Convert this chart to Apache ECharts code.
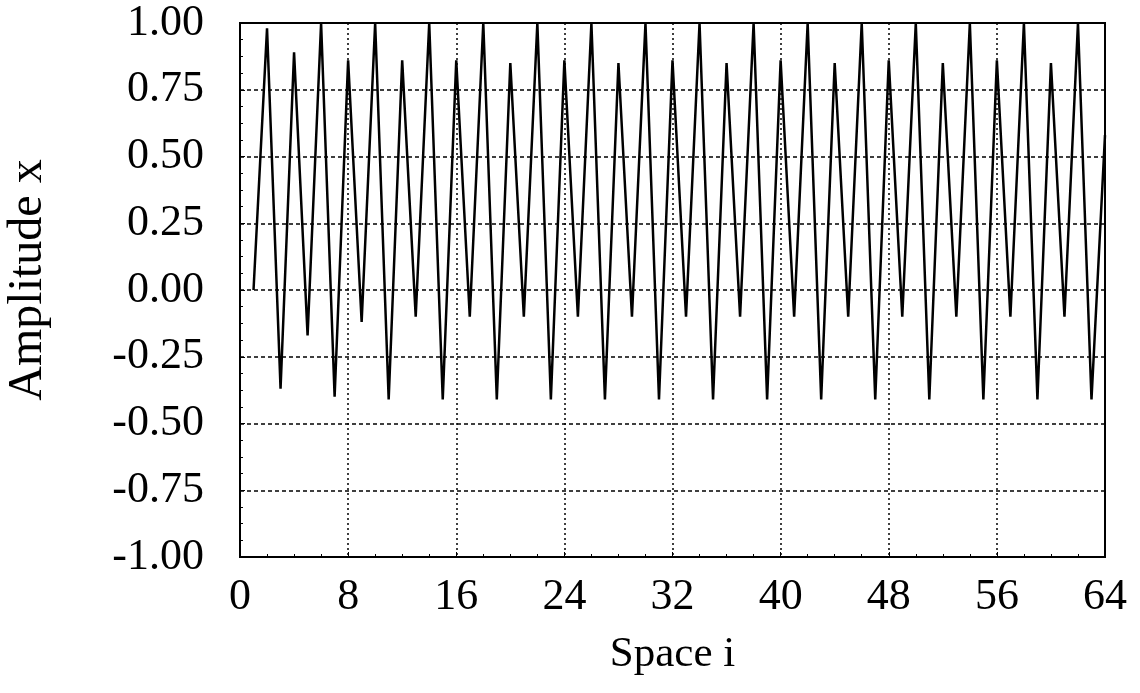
<!DOCTYPE html>
<html>
<head>
<meta charset="utf-8">
<script src="https://cdn.jsdelivr.net/npm/echarts@6/dist/echarts.min.js"></script>
<style>html,body{margin:0;padding:0;background:#fff;}#c{width:1140px;height:693px;}</style>
</head>
<body>
<div id="c"></div>
<script>
const spaceI = [1,2,3,4,5,6,7,8,9,10,11,12,13,14,15,16,17,18,19,20,21,22,23,24,25,26,27,28,29,30,31,32,33,34,35,36,37,38,39,40,41,42,43,44,45,46,47,48,49,50,51,52,53,54,55,56,57,58,59,60,61,62,63,64];
const amplitude = [0,0.98,-0.37,0.89,-0.17,1.0,-0.40,0.86,-0.12,1.0,-0.41,0.86,-0.10,1.0,-0.41,0.86,-0.10,1.0,-0.41,0.85,-0.10,1.0,-0.41,0.86,-0.10,1.0,-0.41,0.85,-0.10,1.0,-0.41,0.86,-0.10,1.0,-0.41,0.85,-0.10,1.0,-0.41,0.86,-0.10,1.0,-0.41,0.85,-0.10,1.0,-0.41,0.86,-0.10,1.0,-0.41,0.85,-0.10,1.0,-0.41,0.86,-0.10,1.0,-0.41,0.85,-0.10,1.0,-0.41,0.58];
const xTicks = [0,8,16,24,32,40,48,56,64];
const yTicks = [-1.00,-0.75,-0.50,-0.25,0.00,0.25,0.50,0.75,1.00];
const xName = 'Space i';
const yName = 'Amplitude x';

const font = '"Liberation Serif","DejaVu Serif",serif';
const data = spaceI.map((x, k) => [x, amplitude[k]]);
const chart = echarts.init(document.getElementById('c'));
chart.setOption({
  animation: false,
  backgroundColor: '#fff',
  grid: {left: 240, right: 35, top: 23, bottom: 136, containLabel: false, outerBoundsMode: 'none', show: true, borderColor: '#000', borderWidth: 2, backgroundColor: 'transparent'},
  xAxis: {
    type: 'value', min: xTicks[0], max: xTicks[xTicks.length-1], interval: 8,
    name: xName, nameLocation: 'middle', nameGap: 76,
    nameTextStyle: {fontFamily: font, fontSize: 43, color: '#000'},
    axisLine: {show: true, onZero: false, lineStyle: {color: '#000', width: 2}},
    axisTick: {show: true, inside: true, length: 5, lineStyle: {color: '#000'}},
    minorTick: {show: true, splitNumber: 4, length: 3, lineStyle: {color: '#000'}},
    axisLabel: {margin: 18, fontFamily: font, fontSize: 44, color: '#000'},
    splitLine: {show: true, lineStyle: {color: '#000', type: [2,3], width: 1.5}}
  },
  yAxis: {
    type: 'value', min: yTicks[0], max: yTicks[yTicks.length-1], interval: 0.25,
    name: yName, nameLocation: 'middle', nameGap: 188, nameRotate: 90,
    nameTextStyle: {fontFamily: font, fontSize: 48, color: '#000', padding: [0,0,0,20]},
    axisLine: {show: true, onZero: false, lineStyle: {color: '#000', width: 2}},
    axisTick: {show: true, inside: true, length: 5, lineStyle: {color: '#000'}},
    minorTick: {show: true, splitNumber: 4, length: 3, lineStyle: {color: '#000'}},
    axisLabel: {margin: 36, fontFamily: font, fontSize: 44, color: '#000', formatter: v => v.toFixed(2)},
    splitLine: {show: true, lineStyle: {color: '#000', type: [4,3], width: 1.5}}
  },
  series: [{
    type: 'line', data: data, showSymbol: false, symbol: 'none',
    lineStyle: {color: '#000', width: 2.5}, z: 5
  }]
});
</script>
</body>
</html>
